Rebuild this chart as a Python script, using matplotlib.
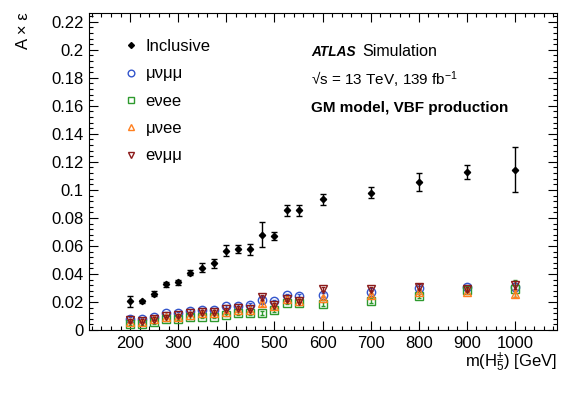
import matplotlib
matplotlib.use("Agg")
import matplotlib.pyplot as plt
from matplotlib.ticker import MultipleLocator
from matplotlib.lines import Line2D

plt.rcParams['font.family'] = ['Liberation Sans', 'DejaVu Sans']
plt.rcParams['mathtext.fontset'] = 'custom'
plt.rcParams['mathtext.rm'] = 'Liberation Sans'
plt.rcParams['mathtext.it'] = 'Liberation Sans:italic'
plt.rcParams['mathtext.bf'] = 'Liberation Sans:bold'

masses = [200, 225, 250, 275, 300, 325, 350, 375, 400, 425, 450, 475, 500, 525, 550, 600, 700, 800, 900, 1000]

incl = [0.0206, 0.0206, 0.026, 0.0325, 0.034, 0.041, 0.0446, 0.0475, 0.0565, 0.0577,
        0.0577, 0.0681, 0.0672, 0.0854, 0.0854, 0.0932, 0.098, 0.1056, 0.1127, 0.1144]
incl_err = [0.004, 0.001, 0.0015, 0.002, 0.002, 0.002, 0.003, 0.003, 0.004, 0.003,
            0.004, 0.009, 0.003, 0.004, 0.004, 0.004, 0.004, 0.0065, 0.005, 0.016]

munumumu = [0.008, 0.0075, 0.009, 0.012, 0.012, 0.0138, 0.0145, 0.0144, 0.0169, 0.0174,
            0.018, 0.0213, 0.0204, 0.025, 0.0244, 0.025, 0.0273, 0.030, 0.0305, 0.0308]
munumumu_err = [0.001, 0.001, 0.001, 0.001, 0.001, 0.001, 0.001, 0.001, 0.001, 0.001,
                0.001, 0.002, 0.001, 0.001, 0.001, 0.0015, 0.0015, 0.0015, 0.0015, 0.003]

evee = [0.0045, 0.0045, 0.0055, 0.0075, 0.008, 0.009, 0.0095, 0.0096, 0.0107, 0.012,
        0.0118, 0.0123, 0.014, 0.0195, 0.019, 0.0185, 0.021, 0.024, 0.0285, 0.0296]
evee_err = [0.001, 0.001, 0.001, 0.001, 0.001, 0.001, 0.001, 0.001, 0.001, 0.001,
            0.001, 0.0015, 0.001, 0.001, 0.001, 0.0015, 0.0015, 0.0015, 0.0015, 0.006]

muvee = [0.006, 0.006, 0.0075, 0.009, 0.009, 0.011, 0.012, 0.012, 0.013, 0.014,
         0.014, 0.019, 0.017, 0.022, 0.021, 0.0226, 0.025, 0.0273, 0.027, 0.026]
muvee_err = [0.001, 0.001, 0.001, 0.001, 0.001, 0.001, 0.001, 0.001, 0.001, 0.001,
             0.001, 0.002, 0.001, 0.001, 0.001, 0.0015, 0.0015, 0.0015, 0.0015, 0.0025]

enumumu = [0.007, 0.0065, 0.008, 0.010, 0.0105, 0.012, 0.013, 0.013, 0.015, 0.016,
           0.015, 0.0232, 0.018, 0.022, 0.021, 0.029, 0.029, 0.031, 0.029, 0.032]
enumumu_err = [0.001, 0.001, 0.001, 0.001, 0.001, 0.001, 0.001, 0.001, 0.001, 0.001,
               0.001, 0.002, 0.001, 0.001, 0.001, 0.0015, 0.0015, 0.0015, 0.0015, 0.003]

labels = ["Inclusive", "\u03bc\u03bd\u03bc\u03bc", "e\u03bdee", "\u03bc\u03bdee", "e\u03bd\u03bc\u03bc"]

W, H = 581, 394
fig = plt.figure(figsize=(W / 100, H / 100), dpi=100)
ax = fig.add_axes([89.3 / W, 1 - 330 / H, (557.3 - 89.3) / W, (330 - 13.4) / H])

c_blue = '#3355cc'
c_green = '#2e9a2e'
c_orange = '#ff7f1e'
c_red = '#8b1a1a'

ax.errorbar(masses, incl, yerr=incl_err, fmt='D', color='black', ms=3.2,
            elinewidth=1.0, capsize=2.0, capthick=1.0, zorder=5)
series = [
    (munumumu, munumumu_err, 'o', c_blue),
    (evee, evee_err, 's', c_green),
    (muvee, muvee_err, '^', c_orange),
    (enumumu, enumumu_err, 'v', c_red),
]
for i, (vals, errs, mk, col) in enumerate(series):
    ax.errorbar(masses, vals, yerr=errs, fmt=mk, mfc='none', mec=col, color=col,
                ms=6.0, mew=1.0, elinewidth=1.0, capsize=1.5, capthick=1.0, zorder=6 + i)

ax.set_xlim(115, 1088)
ax.set_ylim(0, 0.226)
ax.xaxis.set_minor_locator(MultipleLocator(20))
ax.yaxis.set_minor_locator(MultipleLocator(0.004))
ax.set_xticks([200, 300, 400, 500, 600, 700, 800, 900, 1000])
ax.set_yticks([0, 0.02, 0.04, 0.06, 0.08, 0.1, 0.12, 0.14, 0.16, 0.18, 0.2, 0.22])
ax.set_yticklabels(['0', '0.02', '0.04', '0.06', '0.08', '0.1', '0.12', '0.14', '0.16', '0.18', '0.2', '0.22'])
ax.tick_params(which='both', direction='in', top=True, right=True, labelsize=12, width=0.8)
ax.tick_params(which='major', length=6.5, pad=4)
ax.tick_params(which='minor', length=3)
for s in ax.spines.values():
    s.set_linewidth(0.8)

handles = [
    Line2D([], [], marker='D', ls='none', color='black', ms=3.0),
    Line2D([], [], marker='o', ls='none', mfc='none', mec=c_blue, ms=4.8, mew=1.0),
    Line2D([], [], marker='s', ls='none', mfc='none', mec=c_green, ms=4.8, mew=1.0),
    Line2D([], [], marker='^', ls='none', mfc='none', mec=c_orange, ms=4.8, mew=1.0),
    Line2D([], [], marker='v', ls='none', mfc='none', mec=c_red, ms=4.8, mew=1.0),
]
ax.legend(handles, labels, loc='upper left', bbox_to_anchor=(0.0707, 0.919),
          frameon=False, fontsize=12, handlelength=1.0, handletextpad=0.4,
          labelspacing=0.74, borderpad=0, borderaxespad=0, numpoints=1)

fig.text(311.5 / W, 1 - 51.7 / H, "ATLAS", fontsize=9.8, fontweight='bold',
         fontstyle='italic', ha='left', va='center')
fig.text(362 / W, 1 - 51.7 / H, "Simulation", fontsize=11.5, ha='left', va='center')
fig.text(310.7 / W, 1 - 80 / H, "\u221as = 13 TeV, 139 fb$^{-1}$", fontsize=11,
         ha='left', va='center')
fig.text(310.7 / W, 1 - 108 / H, "GM model, VBF production", fontsize=11,
         fontweight='bold', ha='left', va='center')

fig.text(23 / W, 1 - 12 / H, "A \u00d7 \u03b5", fontsize=12, rotation=90,
         ha='center', va='top')
fig.text(557 / W, 1 - 366 / H, r"m(H$_{5}^{\pm}$) [GeV]", fontsize=12,
         ha='right', va='baseline')

fig.savefig("out.png", dpi=100)
